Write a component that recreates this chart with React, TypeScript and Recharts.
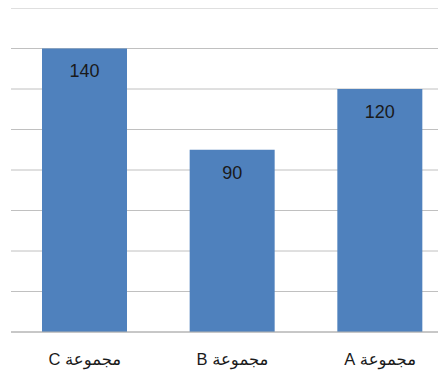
import { Bar, BarChart, CartesianGrid, LabelList, XAxis, YAxis } from "recharts";

// Groups as they read right to left in the original (A on the right).
const groups = ["مجموعة A", "مجموعة B", "مجموعة C"];
const totals = [120, 90, 140];
const yTicks = [0, 20, 40, 60, 80, 100, 120, 140, 160];

const data = groups.map((name, i) => ({ name, total: totals[i] }));

const FONT = "'Liberation Sans', 'DejaVu Sans', sans-serif";

function GroupTick({ x, y, payload }: { x?: number; y?: number; payload?: { value: string } }) {
  return (
    <text
      x={x}
      y={(y ?? 0) + 25}
      textAnchor="middle"
      direction="rtl"
      fill="#1a1a1a"
      fontSize={16.5}
      fontFamily={FONT}
    >
      {payload?.value}
    </text>
  );
}

export default function App() {
  return (
    // the original is cropped on the right, so the plot runs past the window edge
    <div style={{ margin: -8, width: 446, height: 383, overflow: "hidden", background: "#fff" }}>
      <BarChart
        width={460}
        height={383}
        data={data}
        margin={{ top: 8, right: 6, bottom: 21, left: 11 }}
      >
        <CartesianGrid vertical={false} stroke="#c0c0c0" />
        <XAxis
          dataKey="name"
          reversed
          height={30}
          tickLine={false}
          axisLine={{ stroke: "#b0b0b0" }}
          tick={<GroupTick />}
          interval={0}
        />
        <YAxis hide domain={[0, 160]} ticks={yTicks} />
        <Bar dataKey="total" fill="#4f81bd" barSize={85} isAnimationActive={false}>
          <LabelList
            dataKey="total"
            position="insideTop"
            offset={16}
            fill="#1a1a1a"
            fontSize={18}
            fontFamily={FONT}
          />
        </Bar>
      </BarChart>
    </div>
  );
}
